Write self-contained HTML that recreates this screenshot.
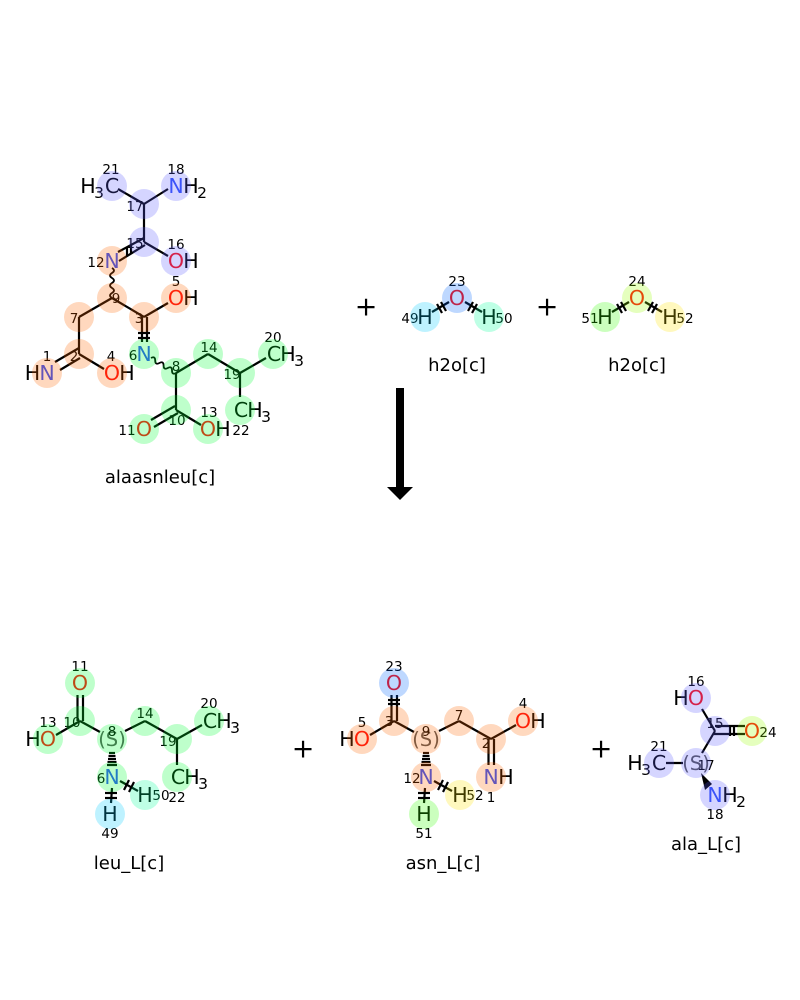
<!DOCTYPE html>
<html><head><meta charset="utf-8">
<style>
html,body{margin:0;padding:0;background:#fff}
svg{display:block}
text{font-family:"DejaVu Sans",sans-serif;text-anchor:middle}
.b line,.b path{stroke:#000;stroke-width:2.2;fill:none;stroke-linecap:butt}
.b path.w{stroke-width:1.8}
.a{font-size:20.5px}
.s{font-size:15.5px}
.n{font-size:13.5px}
.t{font-size:18px}
.p{font-size:27px}
.st{font-size:19.5px;fill:#555}
.O{fill:#FF0D0D}.N{fill:#3050F8}
.c{opacity:.25}
.or{fill:#FF6600}.gr{fill:#00FF33}.la{fill:#5C5CFF}.bl{fill:#0066FF}.cy{fill:#00CCFF}.mi{fill:#00FF99}.lg{fill:#33FF00}.yg{fill:#99FF00}.ye{fill:#FFE600}
</style></head><body>
<svg width="800" height="1000" viewBox="0 0 800 1000" xmlns="http://www.w3.org/2000/svg">
<rect width="800" height="1000" fill="#fff"/>

<g class="b">
<!-- alaasnleu -->
<line x1="118" y1="189" x2="144" y2="204"/><line x1="144" y1="204" x2="168" y2="189"/><line x1="144" y1="204" x2="144" y2="242"/>
<line x1="144" y1="242" x2="168" y2="256"/>
<line x1="118" y1="252" x2="144" y2="238"/><line x1="119" y1="261" x2="145" y2="245"/>
<line x1="127" y1="247" x2="127" y2="256"/><line x1="131" y1="245" x2="131" y2="254"/>
<path class="w" d="M112 268q4 2.5 0 5t0 5t0 5t0 5t0 5t0 5"/>
<line x1="112" y1="298" x2="79" y2="317"/><line x1="112" y1="298" x2="144" y2="317"/><line x1="144" y1="317" x2="168" y2="303"/>
<line x1="79" y1="317" x2="79" y2="354"/>
<line x1="142" y1="317" x2="142" y2="342"/><line x1="147" y1="317" x2="147" y2="342"/>
<line x1="138" y1="333" x2="150" y2="333"/><line x1="138" y1="338" x2="150" y2="338"/>
<line x1="55" y1="362" x2="79" y2="348"/><line x1="60" y1="370" x2="80" y2="358"/>
<line x1="79" y1="354" x2="104" y2="369"/>
<path class="w" d="M151 358q4.2-2.3 4.2 2.5t4.2 2.5t4.2 2.5t4.2 2.5t4.2 2.5t4.2 2.5"/>
<line x1="176" y1="373" x2="208" y2="354"/><line x1="208" y1="354" x2="240" y2="373"/><line x1="240" y1="373" x2="266" y2="358"/>
<line x1="240" y1="373" x2="240" y2="397"/><line x1="176" y1="373" x2="176" y2="410"/><line x1="176" y1="410" x2="201" y2="425"/>
<line x1="151" y1="420" x2="175" y2="406"/><line x1="154" y1="427" x2="178" y2="413"/>
<!-- h2o 1 -->
<line x1="432" y1="312" x2="449" y2="302"/><line x1="465" y1="302" x2="482" y2="312"/>
<line x1="437" y1="304" x2="442" y2="313"/><line x1="441" y1="302" x2="446" y2="311"/>
<line x1="473" y1="302" x2="468" y2="311"/><line x1="477" y1="304" x2="472" y2="313"/>
<!-- h2o 2 -->
<line x1="612" y1="312" x2="629" y2="302"/><line x1="645" y1="302" x2="662" y2="312"/>
<line x1="617" y1="304" x2="622" y2="313"/><line x1="621" y1="302" x2="626" y2="311"/>
<line x1="653" y1="302" x2="648" y2="311"/><line x1="657" y1="304" x2="652" y2="313"/>
<!-- leu -->
<line x1="77.5" y1="695" x2="77.5" y2="721"/><line x1="83" y1="695" x2="83" y2="721"/>
<line x1="80" y1="721" x2="56" y2="735"/><line x1="80" y1="721" x2="100" y2="732"/><line x1="125" y1="731" x2="145" y2="721"/>
<line x1="145" y1="721" x2="177" y2="739"/><line x1="177" y1="739" x2="202" y2="725"/><line x1="177" y1="739" x2="177" y2="765"/>
<line x1="112" y1="788" x2="111" y2="803"/><line x1="105" y1="793" x2="117" y2="793"/><line x1="105" y1="798" x2="117" y2="798"/>
<line x1="120" y1="781" x2="138" y2="791"/><line x1="129" y1="780" x2="124" y2="790"/><line x1="134" y1="782" x2="129" y2="792"/>
<!-- asn -->
<line x1="391.5" y1="695" x2="391.5" y2="721"/><line x1="397" y1="695" x2="397" y2="721"/>
<line x1="388" y1="700" x2="400" y2="700"/><line x1="388" y1="704" x2="400" y2="704"/>
<line x1="394" y1="721" x2="370" y2="735"/><line x1="394" y1="721" x2="414" y2="732"/><line x1="439" y1="731" x2="459" y2="721"/>
<line x1="459" y1="721" x2="491" y2="739"/><line x1="491" y1="739" x2="516" y2="725"/>
<line x1="488.5" y1="739" x2="488.5" y2="765"/><line x1="494" y1="739" x2="494" y2="765"/>
<line x1="425" y1="788" x2="424" y2="803"/><line x1="418" y1="793" x2="430" y2="793"/><line x1="418" y1="798" x2="430" y2="798"/>
<line x1="434" y1="781" x2="452" y2="791"/><line x1="443" y1="780" x2="438" y2="790"/><line x1="448" y1="782" x2="443" y2="792"/>
<!-- ala -->
<line x1="702" y1="709" x2="715" y2="731"/><line x1="715" y1="731" x2="702" y2="753"/>
<line x1="715" y1="726" x2="745" y2="726"/><line x1="714" y1="734" x2="745" y2="734"/>
<line x1="730" y1="725" x2="730" y2="736"/><line x1="734" y1="725" x2="734" y2="736"/>
<line x1="666" y1="763" x2="683" y2="763"/>
<!-- hash wedges -->
<g style="stroke-width:1.6">
<line x1="109" y1="753" x2="115" y2="753"/><line x1="108.5" y1="756" x2="115.5" y2="756"/><line x1="108" y1="759" x2="116" y2="759"/><line x1="107.5" y1="762" x2="116.5" y2="762"/><line x1="107" y1="765" x2="117" y2="765"/>
<line x1="423" y1="753" x2="429" y2="753"/><line x1="422.5" y1="756" x2="429.5" y2="756"/><line x1="422" y1="759" x2="430" y2="759"/><line x1="421.5" y1="762" x2="430.5" y2="762"/><line x1="421" y1="765" x2="431" y2="765"/>
</g>
</g>
<polygon points="701,773 705,790 712,784" fill="#000"/>

<!-- arrow -->
<rect x="396" y="388" width="8" height="99" fill="#000"/>
<polygon points="387,487 413,487 400,500" fill="#000"/>

<!-- plus signs -->
<text class="p" x="366" y="315.5">+</text>
<text class="p" x="547" y="315.5">+</text>
<text class="p" x="303" y="757.5">+</text>
<text class="p" x="601" y="757.5">+</text>

<!-- captions -->
<text class="t" x="160" y="483">alaasnleu[c]</text>
<text class="t" x="457" y="371">h2o[c]</text>
<text class="t" x="637" y="371">h2o[c]</text>
<text class="t" x="129" y="869">leu_L[c]</text>
<text class="t" x="443" y="869">asn_L[c]</text>
<text class="t" x="706" y="850">ala_L[c]</text>

<!-- atoms: alaasnleu -->
<text class="a" x="88" y="193">H</text><text class="s" x="99" y="198">3</text><text class="a" x="112" y="193">C</text>
<text class="a N" x="176" y="193">N</text><text class="a" x="191" y="193">H</text><text class="s" x="202" y="198">2</text>
<text class="a N" x="112" y="268">N</text>
<text class="a O" x="176" y="268">O</text><text class="a" x="191" y="268">H</text>
<text class="a O" x="176" y="305">O</text><text class="a" x="191" y="305">H</text>
<text class="a N" x="144" y="361">N</text>
<text class="a N" x="47" y="380">N</text><text class="a" x="32.5" y="380">H</text>
<text class="a O" x="112" y="380">O</text><text class="a" x="127" y="380">H</text>
<text class="a" x="274" y="361">C</text><text class="a" x="288" y="361">H</text><text class="s" x="299" y="366">3</text>
<text class="a" x="241" y="417">C</text><text class="a" x="255" y="417">H</text><text class="s" x="266" y="422">3</text>
<text class="a O" x="144" y="436">O</text>
<text class="a O" x="208" y="436">O</text><text class="a" x="223" y="436">H</text>

<!-- atoms: h2o -->
<text class="a O" x="457" y="305">O</text><text class="a" x="425" y="324">H</text><text class="a" x="489" y="324">H</text>
<text class="a O" x="637" y="305">O</text><text class="a" x="605" y="324">H</text><text class="a" x="670" y="324">H</text>

<!-- atoms: leu -->
<text class="a O" x="80" y="690">O</text>
<text class="a O" x="48" y="746">O</text><text class="a" x="33" y="746">H</text>
<text class="st" x="112" y="746">(S)</text>
<text class="a N" x="112" y="784">N</text>
<text class="a" x="145" y="802">H</text><text class="a" x="110" y="821">H</text>
<text class="a" x="178" y="784">C</text><text class="a" x="192" y="784">H</text><text class="s" x="203" y="789">3</text>
<text class="a" x="210" y="728">C</text><text class="a" x="224" y="728">H</text><text class="s" x="235" y="733">3</text>

<!-- atoms: asn -->
<text class="a O" x="394" y="690">O</text>
<text class="a O" x="362" y="746">O</text><text class="a" x="347" y="746">H</text>
<text class="st" x="426" y="746">(S)</text>
<text class="a O" x="523" y="728">O</text><text class="a" x="538" y="728">H</text>
<text class="a N" x="491" y="784">N</text><text class="a" x="506" y="784">H</text>
<text class="a N" x="426" y="784">N</text>
<text class="a" x="460" y="802">H</text><text class="a" x="424" y="821">H</text>

<!-- atoms: ala -->
<text class="a O" x="696" y="705">O</text><text class="a" x="681" y="705">H</text>
<text class="a O" x="752" y="738">O</text>
<text class="st" x="696" y="770">(S)</text>
<text class="a" x="635" y="770">H</text><text class="s" x="646" y="775">3</text><text class="a" x="659" y="770">C</text>
<text class="a N" x="715" y="802">N</text><text class="a" x="730" y="802">H</text><text class="s" x="741" y="807">2</text>

<!-- atom numbers -->
<g class="n">
<text x="111" y="174">21</text><text x="176" y="174">18</text><text x="135" y="211">17</text><text x="135" y="248">15</text><text x="96" y="267">12</text><text x="176" y="249">16</text><text x="176" y="286">5</text><text x="116" y="303">9</text><text x="74" y="323">7</text><text x="139" y="323">3</text><text x="47" y="361">1</text><text x="74" y="361">2</text><text x="111" y="361">4</text><text x="133" y="360">6</text><text x="176" y="371">8</text><text x="209" y="352">14</text><text x="232" y="379">19</text><text x="273" y="342">20</text><text x="241" y="435">22</text><text x="177" y="425">10</text><text x="127" y="435">11</text><text x="209" y="417">13</text>
<text x="457" y="286">23</text><text x="410" y="323">49</text><text x="504" y="323">50</text>
<text x="637" y="286">24</text><text x="590" y="323">51</text><text x="685" y="323">52</text>
<text x="80" y="671">11</text><text x="48" y="727">13</text><text x="72" y="727">10</text><text x="112" y="736">8</text><text x="145" y="718">14</text><text x="168" y="746">19</text><text x="209" y="708">20</text><text x="177" y="802">22</text><text x="161" y="800">50</text><text x="110" y="838">49</text><text x="101" y="783">6</text>
<text x="394" y="671">23</text><text x="362" y="727">5</text><text x="389" y="726">3</text><text x="426" y="736">9</text><text x="459" y="720">7</text><text x="486" y="748">2</text><text x="523" y="708">4</text><text x="412" y="783">12</text><text x="475" y="800">52</text><text x="491" y="802">1</text><text x="424" y="838">51</text>
<text x="696" y="686">16</text><text x="715" y="728">15</text><text x="768" y="737">24</text><text x="659" y="751">21</text><text x="706" y="770">17</text><text x="715" y="819">18</text>
</g>

<!-- highlight circles on top -->
<g class="c">
<g class="la"><circle cx="112" cy="186" r="15"/><circle cx="176" cy="186" r="15"/><circle cx="144" cy="204" r="15"/><circle cx="144" cy="242" r="15"/><circle cx="176" cy="261" r="15"/>
<circle cx="696" cy="698" r="15"/><circle cx="715" cy="731" r="15"/><circle cx="696" cy="763" r="15"/><circle cx="659" cy="763" r="15"/><circle cx="715" cy="795" r="15"/></g>
<g class="or"><circle cx="112" cy="261" r="15"/><circle cx="112" cy="298" r="15"/><circle cx="176" cy="298" r="15"/><circle cx="79" cy="317" r="15"/><circle cx="144" cy="317" r="15"/><circle cx="79" cy="354" r="15"/><circle cx="47" cy="373" r="15"/><circle cx="112" cy="373" r="15"/>
<circle cx="394" cy="721" r="15"/><circle cx="362" cy="739" r="15"/><circle cx="426" cy="739" r="15"/><circle cx="459" cy="721" r="15"/><circle cx="491" cy="739" r="15"/><circle cx="523" cy="721" r="15"/><circle cx="491" cy="777" r="15"/><circle cx="426" cy="777" r="15"/></g>
<g class="gr"><circle cx="144" cy="354" r="15"/><circle cx="176" cy="373" r="15"/><circle cx="208" cy="354" r="15"/><circle cx="240" cy="373" r="15"/><circle cx="273" cy="354" r="15"/><circle cx="240" cy="410" r="15"/><circle cx="176" cy="410" r="15"/><circle cx="144" cy="429" r="15"/><circle cx="208" cy="429" r="15"/>
<circle cx="80" cy="683" r="15"/><circle cx="80" cy="721" r="15"/><circle cx="48" cy="739" r="15"/><circle cx="112" cy="739" r="15"/><circle cx="145" cy="721" r="15"/><circle cx="177" cy="739" r="15"/><circle cx="209" cy="721" r="15"/><circle cx="177" cy="777" r="15"/><circle cx="112" cy="777" r="15"/></g>
<circle class="bl" cx="457" cy="298" r="15"/><circle class="bl" cx="394" cy="683" r="15"/>
<circle class="cy" cx="425" cy="317" r="15"/><circle class="cy" cx="110" cy="814" r="15"/>
<circle class="mi" cx="489" cy="317" r="15"/><circle class="mi" cx="145" cy="795" r="15"/>
<circle class="lg" cx="605" cy="317" r="15"/><circle class="lg" cx="424" cy="814" r="15"/>
<circle class="yg" cx="637" cy="298" r="15"/><circle class="yg" cx="752" cy="731" r="15"/>
<circle class="ye" cx="670" cy="317" r="15"/><circle class="ye" cx="460" cy="795" r="15"/>
</g>
</svg>
</body></html>
